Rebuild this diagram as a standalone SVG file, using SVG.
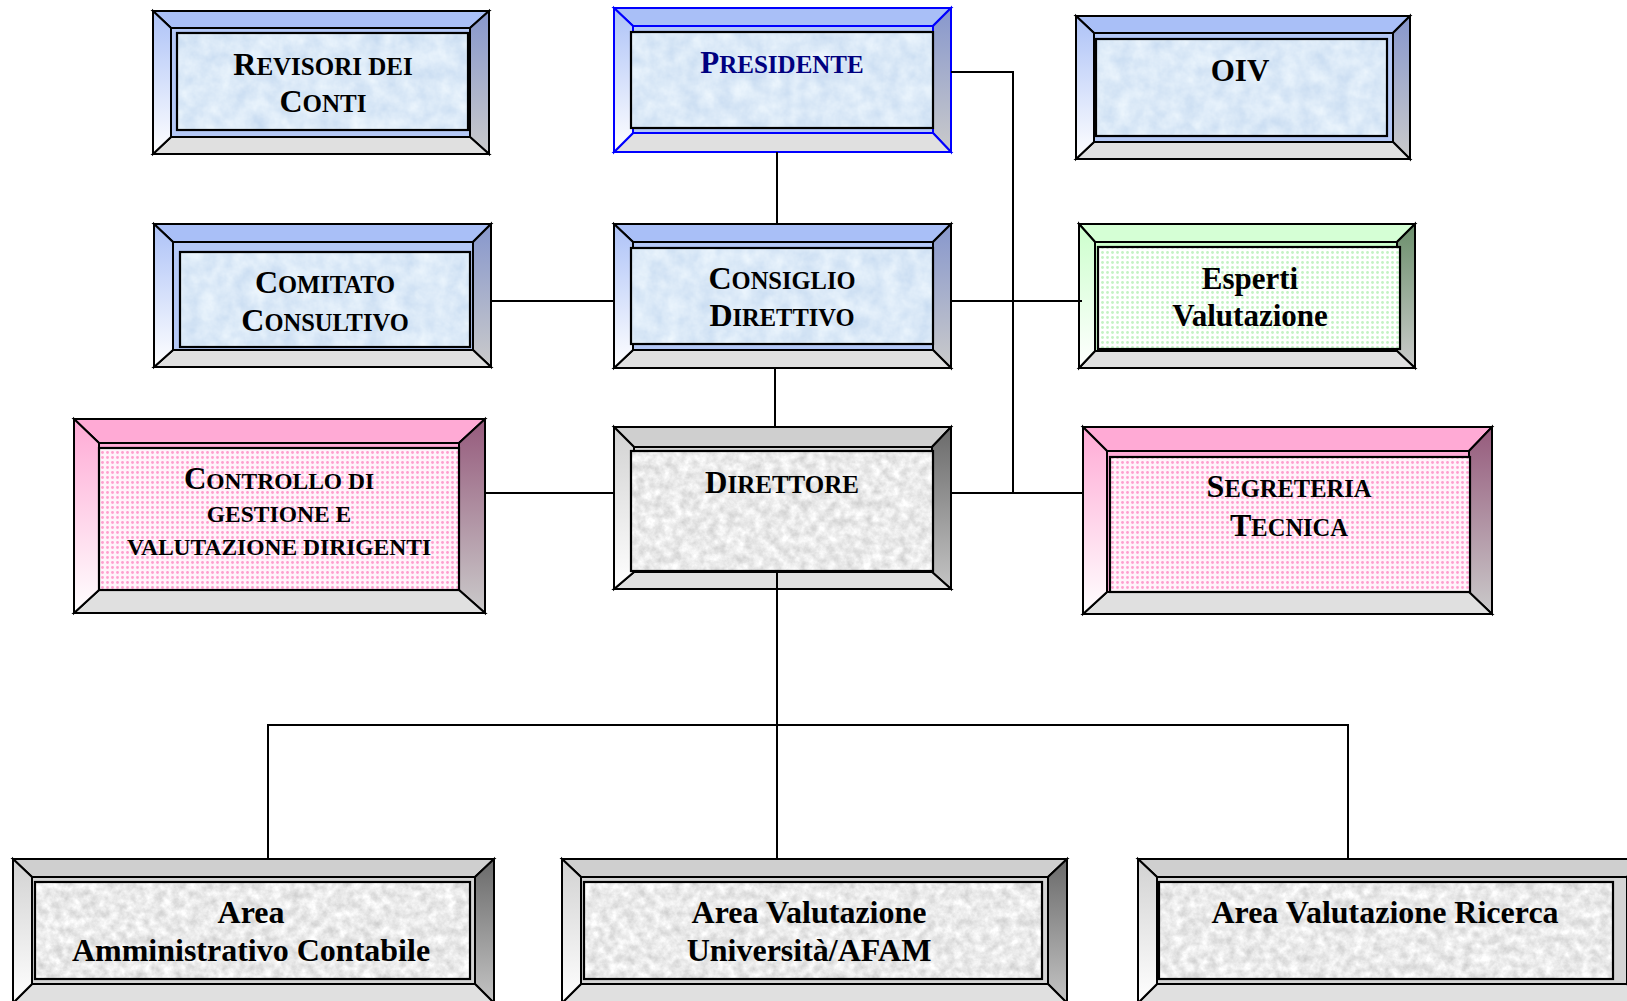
<svg xmlns="http://www.w3.org/2000/svg" width="1627" height="1001" viewBox="0 0 1627 1001">
<style>
.bev{stroke:#000;stroke-width:2;stroke-linejoin:miter}
.pb .bev,.pb .face{stroke:#0000ff}
.face{stroke:#000;stroke-width:2}
.in{stroke:#000;stroke-width:2.2}
.t{font-family:"Liberation Serif","Times New Roman",serif;font-weight:bold;text-anchor:middle;fill:#000}
.c{stroke:#000;stroke-width:2;fill:none}
.bB{fill:#e0e0e0}
.blue .tp{fill:#a9bff7}.blue .lf{fill:url(#gBlueL)}.blue .rt{fill:url(#gBlueR)}.blue .face{fill:#b4c8f6}
.grey .tp{fill:#cfcfcf}.grey .lf{fill:url(#gGreyL)}.grey .rt{fill:url(#gGreyR)}.grey .face{fill:#d4d4d4}
.pink .tp{fill:#ffaad5}.pink .lf{fill:url(#gPinkL)}.pink .rt{fill:url(#gPinkR)}.pink .face{fill:#ffaad5}
.green .tp{fill:#d5ffd5}.green .lf{fill:url(#gGreenL)}.green .rt{fill:url(#gGreenR)}.green .face{fill:#ccffcc}
</style>
<defs>
<linearGradient id="gBlueL" x1="0" y1="0" x2="0" y2="1"><stop offset="0" stop-color="#adc2f7"/><stop offset="1" stop-color="#ffffff"/></linearGradient>
<linearGradient id="gBlueR" x1="0" y1="0" x2="0" y2="1"><stop offset="0" stop-color="#8797cd"/><stop offset="1" stop-color="#cacaca"/></linearGradient>
<linearGradient id="gGreyL" x1="0" y1="0" x2="0" y2="1"><stop offset="0" stop-color="#d2d2d2"/><stop offset="1" stop-color="#ffffff"/></linearGradient>
<linearGradient id="gGreyR" x1="0" y1="0" x2="0" y2="1"><stop offset="0" stop-color="#6a6a6a"/><stop offset="1" stop-color="#c4c4c4"/></linearGradient>
<linearGradient id="gPinkL" x1="0" y1="0" x2="0" y2="1"><stop offset="0" stop-color="#ffaad5"/><stop offset="1" stop-color="#ffffff"/></linearGradient>
<linearGradient id="gPinkR" x1="0" y1="0" x2="0" y2="1"><stop offset="0" stop-color="#965a7c"/><stop offset="1" stop-color="#cacaca"/></linearGradient>
<linearGradient id="gGreenL" x1="0" y1="0" x2="0" y2="1"><stop offset="0" stop-color="#ccffcc"/><stop offset="1" stop-color="#ffffff"/></linearGradient>
<linearGradient id="gGreenR" x1="0" y1="0" x2="0" y2="1"><stop offset="0" stop-color="#6b8f6b"/><stop offset="1" stop-color="#cccccc"/></linearGradient>
<filter id="fBlue" x="0" y="0" width="1" height="1" color-interpolation-filters="sRGB">
<feTurbulence type="fractalNoise" baseFrequency="0.06" numOctaves="4" seed="3"/>
<feColorMatrix type="matrix" values="0.18 0 0 0 0.77  0.13 0 0 0 0.85  0.06 0 0 0 0.94  0 0 0 0 1"/>
</filter>
<filter id="fGrey" x="0" y="0" width="1" height="1" color-interpolation-filters="sRGB">
<feTurbulence type="fractalNoise" baseFrequency="0.11" numOctaves="4" seed="7"/>
<feColorMatrix type="matrix" values="0.28 0 0 0 0.78  0.28 0 0 0 0.78  0.28 0 0 0 0.78  0 0 0 0 1"/>
</filter>
<pattern id="pPink" width="5" height="5" patternUnits="userSpaceOnUse"><rect width="5" height="5" fill="#fff4fa"/><circle cx="2.5" cy="2.5" r="1.4" fill="#ff9fcf"/></pattern>
<pattern id="pGreen" width="5" height="5" patternUnits="userSpaceOnUse"><rect width="5" height="5" fill="#ffffff"/><circle cx="2.5" cy="2.5" r="1.4" fill="#c4f2c4"/></pattern>
</defs>

<g id="node-revisori" class="blue">
<polygon class="bev tp" points="153,11 489,11 470,28 171,28"/>
<polygon class="bev rt" points="489,11 489,154 470,137 470,28"/>
<polygon class="bev bB" points="153,154 489,154 470,137 171,137"/>
<polygon class="bev lf" points="153,11 171,28 171,137 153,154"/>
<rect class="face" x="171" y="28" width="299" height="109"/>
<rect x="177" y="33" width="291" height="97" filter="url(#fBlue)"/>
<rect class="in" x="177" y="33" width="291" height="97" fill="none"/>
<text class="t" x="323" y="75"><tspan font-size="32">R</tspan><tspan font-size="25">EVISORI DEI</tspan></text>
<text class="t" x="323" y="112"><tspan font-size="32">C</tspan><tspan font-size="25">ONTI</tspan></text>
</g>

<g id="node-presidente" class="blue pb">
<polygon class="bev tp" points="614,8 951,8 933,26 633,26"/>
<polygon class="bev rt" points="951,8 951,152 933,133 933,26"/>
<polygon class="bev bB" points="614,152 951,152 933,133 633,133"/>
<polygon class="bev lf" points="614,8 633,26 633,133 614,152"/>
<rect class="face" x="633" y="26" width="300" height="107"/>
<rect x="631" y="32" width="302" height="96" filter="url(#fBlue)"/>
<rect class="in" x="631" y="32" width="302" height="96" fill="none"/>
<text class="t" x="782" y="73" style="fill:#000080"><tspan font-size="31">P</tspan><tspan font-size="25">RESIDENTE</tspan></text>
</g>

<g id="node-oiv" class="blue">
<polygon class="bev tp" points="1076,16 1410,16 1393,33 1094,33"/>
<polygon class="bev rt" points="1410,16 1410,159 1393,142 1393,33"/>
<polygon class="bev bB" points="1076,159 1410,159 1393,142 1094,142"/>
<polygon class="bev lf" points="1076,16 1094,33 1094,142 1076,159"/>
<rect class="face" x="1094" y="33" width="299" height="109"/>
<rect x="1096" y="39" width="291" height="97" filter="url(#fBlue)"/>
<rect class="in" x="1096" y="39" width="291" height="97" fill="none"/>
<text class="t" x="1240" y="81" font-size="31">OIV</text>
</g>

<g id="node-comitato" class="blue">
<polygon class="bev tp" points="154,224 491,224 473,242 173,242"/>
<polygon class="bev rt" points="491,224 491,367 473,350 473,242"/>
<polygon class="bev bB" points="154,367 491,367 473,350 173,350"/>
<polygon class="bev lf" points="154,224 173,242 173,350 154,367"/>
<rect class="face" x="173" y="242" width="300" height="108"/>
<rect x="180" y="252" width="290" height="95" filter="url(#fBlue)"/>
<rect class="in" x="180" y="252" width="290" height="95" fill="none"/>
<text class="t" x="325" y="293"><tspan font-size="32">C</tspan><tspan font-size="24.5">OMITATO</tspan></text>
<text class="t" x="325" y="331"><tspan font-size="32">C</tspan><tspan font-size="24.5">ONSULTIVO</tspan></text>
</g>

<g id="node-consiglio" class="blue">
<polygon class="bev tp" points="614,224 951,224 933,242 633,242"/>
<polygon class="bev rt" points="951,224 951,368 933,350 933,242"/>
<polygon class="bev bB" points="614,368 951,368 933,350 633,350"/>
<polygon class="bev lf" points="614,224 633,242 633,350 614,368"/>
<rect class="face" x="633" y="242" width="300" height="108"/>
<rect x="631" y="248" width="302" height="96" filter="url(#fBlue)"/>
<rect class="in" x="631" y="248" width="302" height="96" fill="none"/>
<text class="t" x="782" y="289"><tspan font-size="32">C</tspan><tspan font-size="24.5">ONSIGLIO</tspan></text>
<text class="t" x="782" y="326"><tspan font-size="32">D</tspan><tspan font-size="24.5">IRETTIVO</tspan></text>
</g>

<g id="node-esperti" class="green">
<polygon class="bev tp" points="1079,224 1415,224 1397,242 1095,242"/>
<polygon class="bev rt" points="1415,224 1415,368 1397,351 1397,242"/>
<polygon class="bev bB" points="1079,368 1415,368 1397,351 1095,351"/>
<polygon class="bev lf" points="1079,224 1095,242 1095,351 1079,368"/>
<rect class="face" x="1095" y="242" width="302" height="109"/>
<rect class="in" x="1098" y="247" width="302" height="102" fill="url(#pGreen)"/>
<text class="t" x="1250" y="289" font-size="31">Esperti</text>
<text class="t" x="1250" y="326" font-size="31">Valutazione</text>
</g>

<g id="node-controllo" class="pink">
<polygon class="bev tp" points="74,419 485,419 459,443 99,443"/>
<polygon class="bev rt" points="485,419 485,613 459,590 459,443"/>
<polygon class="bev bB" points="74,613 485,613 459,590 99,590"/>
<polygon class="bev lf" points="74,419 99,443 99,590 74,613"/>
<rect class="face" x="99" y="443" width="360" height="147"/>
<rect class="in" x="99" y="448" width="360" height="142" fill="url(#pPink)"/>
<text class="t" x="279" y="489"><tspan font-size="31">C</tspan><tspan font-size="23.5">ONTROLLO DI</tspan></text>
<text class="t" x="279" y="522" font-size="23.5">GESTIONE E</text>
<text class="t" x="279" y="555" font-size="23.5">VALUTAZIONE DIRIGENTI</text>
</g>

<g id="node-direttore" class="grey">
<polygon class="bev tp" points="614,427 951,427 932,447 634,447"/>
<polygon class="bev rt" points="951,427 951,589 932,572 932,447"/>
<polygon class="bev bB" points="614,589 951,589 932,572 634,572"/>
<polygon class="bev lf" points="614,427 634,447 634,572 614,589"/>
<rect class="face" x="634" y="447" width="298" height="125"/>
<rect x="631" y="451" width="302" height="120" filter="url(#fGrey)"/>
<rect class="in" x="631" y="451" width="302" height="120" fill="none"/>
<text class="t" x="782" y="493"><tspan font-size="31">D</tspan><tspan font-size="25">IRETTORE</tspan></text>
</g>

<g id="node-segreteria" class="pink">
<polygon class="bev tp" points="1083,427 1492,427 1469,451 1107,451"/>
<polygon class="bev rt" points="1492,427 1492,614 1469,592 1469,451"/>
<polygon class="bev bB" points="1083,614 1492,614 1469,592 1107,592"/>
<polygon class="bev lf" points="1083,427 1107,451 1107,592 1083,614"/>
<rect class="face" x="1107" y="451" width="362" height="141"/>
<rect class="in" x="1110" y="457" width="360" height="135" fill="url(#pPink)"/>
<text class="t" x="1289" y="497"><tspan font-size="32">S</tspan><tspan font-size="24.5">EGRETERIA</tspan></text>
<text class="t" x="1289" y="536"><tspan font-size="32">T</tspan><tspan font-size="24.5">ECNICA</tspan></text>
</g>

<g id="node-area-amministrativo" class="grey">
<polygon class="bev tp" points="13,859 494,859 475,877 32,877"/>
<polygon class="bev rt" points="494,859 494,1003 475,984 475,877"/>
<polygon class="bev bB" points="13,1003 494,1003 475,984 32,984"/>
<polygon class="bev lf" points="13,859 32,877 32,984 13,1003"/>
<rect class="face" x="32" y="877" width="443" height="107"/>
<rect x="35" y="882" width="435" height="97" filter="url(#fGrey)"/>
<rect class="in" x="35" y="882" width="435" height="97" fill="none"/>
<text class="t" x="251" y="923" font-size="32">Area</text>
<text class="t" x="251" y="961" font-size="32">Amministrativo Contabile</text>
</g>

<g id="node-area-universita" class="grey">
<polygon class="bev tp" points="562,859 1067,859 1048,877 581,877"/>
<polygon class="bev rt" points="1067,859 1067,1003 1048,984 1048,877"/>
<polygon class="bev bB" points="562,1003 1067,1003 1048,984 581,984"/>
<polygon class="bev lf" points="562,859 581,877 581,984 562,1003"/>
<rect class="face" x="581" y="877" width="467" height="107"/>
<rect x="584" y="882" width="458" height="97" filter="url(#fGrey)"/>
<rect class="in" x="584" y="882" width="458" height="97" fill="none"/>
<text class="t" x="809" y="923" font-size="32">Area Valutazione</text>
<text class="t" x="809" y="961" font-size="32">Università/AFAM</text>
</g>

<g id="node-area-ricerca" class="grey">
<polygon class="bev tp" points="1138,859 1646,859 1627,877 1157,877"/>
<polygon class="bev rt" points="1646,859 1646,1003 1627,984 1627,877"/>
<polygon class="bev bB" points="1138,1003 1646,1003 1627,984 1157,984"/>
<polygon class="bev lf" points="1138,859 1157,877 1157,984 1138,1003"/>
<rect class="face" x="1157" y="877" width="470" height="107"/>
<rect x="1159" y="882" width="454" height="97" filter="url(#fGrey)"/>
<rect class="in" x="1159" y="882" width="454" height="97" fill="none"/>
<text class="t" x="1385" y="923" font-size="32">Area Valutazione Ricerca</text>
</g>

<g id="connectors">
<path class="c" d="M951,72 H1013 V493"/>
<path class="c" d="M777,152 V224"/>
<path class="c" d="M491,301 H614"/>
<path class="c" d="M951,301 H1082"/>
<path class="c" d="M775,368 V427"/>
<path class="c" d="M485,493 H614"/>
<path class="c" d="M951,493 H1083"/>
<path class="c" d="M777,571 V859"/>
<path class="c" d="M268,859 V725 H1348 V859"/>
</g>
</svg>
